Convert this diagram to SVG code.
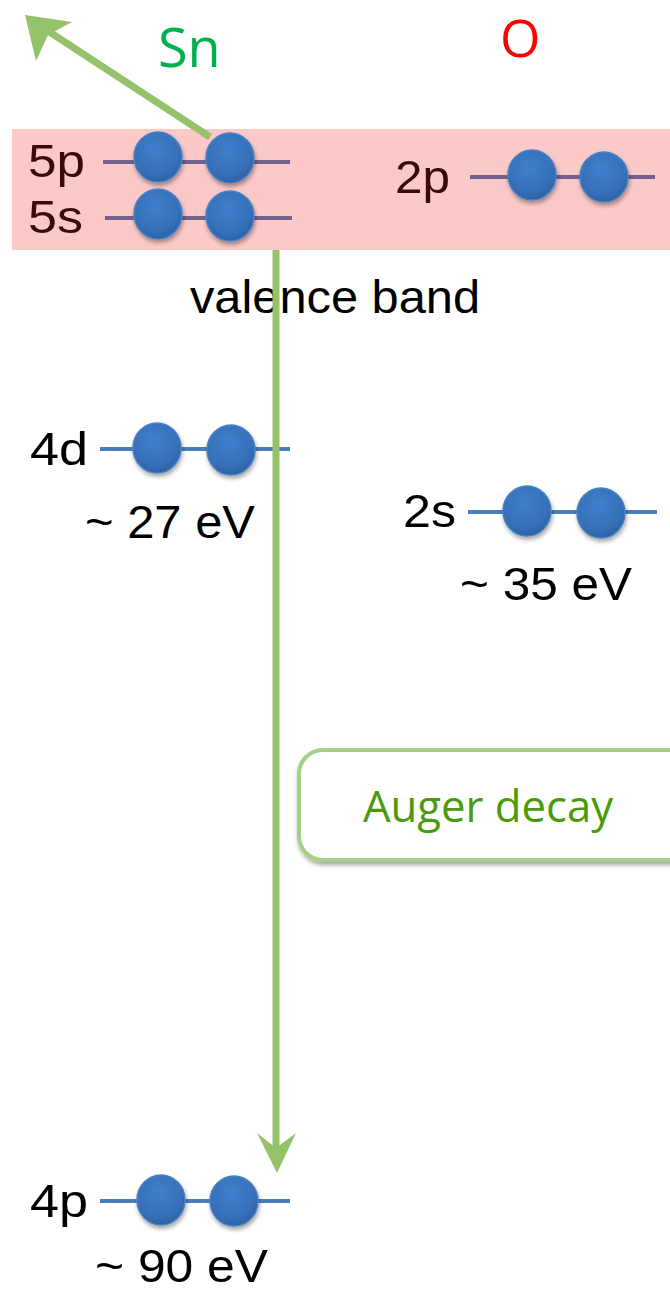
<svg xmlns="http://www.w3.org/2000/svg" width="670" height="1290" viewBox="0 0 670 1290">
<defs>
<radialGradient id="eg" cx="0.45" cy="0.35" r="0.7">
<stop offset="0" stop-color="#3f7fcc"/>
<stop offset="0.7" stop-color="#3670b8"/>
<stop offset="1" stop-color="#2b5c9c"/>
</radialGradient>
<filter id="sh" x="-20%" y="-20%" width="140%" height="150%">
<feDropShadow dx="1" dy="3" stdDeviation="2" flood-color="#000" flood-opacity="0.35"/>
</filter>
<style>
.lbl{font-family:"Liberation Sans",Arial,sans-serif;font-size:47px;fill:#000}
.dk{fill:#3a0a0a}
.el{fill:url(#eg);stroke:#4a82c4;stroke-width:1.5;filter:url(#sh)}
.lv{stroke:#4a7ebb;stroke-width:4}
.lvp{stroke:#73608f;stroke-width:4}
.conn{stroke:#97c26c;stroke-width:7;fill:none}
.hd{fill:#97c26c}
</style>
</defs>
<rect x="12" y="129" width="658" height="121" fill="#fcc9c9"/>
<text x="158" y="67" font-family="Open Sans,'Liberation Sans',sans-serif" font-size="54" fill="#00b050">Sn</text>
<text x="500" y="57" font-family="Open Sans,'Liberation Sans',sans-serif" font-size="52" fill="#ff0000">O</text>
<text class="lbl" x="190" y="313" textLength="290" lengthAdjust="spacingAndGlyphs">valence band</text>
<g id="sn5p">
<line class="lvp" x1="103" y1="162" x2="290" y2="162"/>
<ellipse class="el" cx="158" cy="157" rx="24" ry="25"/>
<ellipse class="el" cx="230" cy="158" rx="24" ry="25"/>
<text class="lbl dk" x="28" y="177" textLength="57" lengthAdjust="spacingAndGlyphs">5p</text>
</g>
<g id="sn5s">
<line class="lvp" x1="105" y1="218" x2="292" y2="218"/>
<ellipse class="el" cx="158" cy="214" rx="24" ry="25"/>
<ellipse class="el" cx="230" cy="216" rx="24" ry="25"/>
<text class="lbl dk" x="28" y="233" textLength="55" lengthAdjust="spacingAndGlyphs">5s</text>
</g>
<g id="o2p">
<line class="lvp" x1="470" y1="177" x2="655" y2="177"/>
<ellipse class="el" cx="532" cy="175" rx="24" ry="25"/>
<ellipse class="el" cx="604" cy="177" rx="24" ry="25"/>
<text class="lbl dk" x="395" y="193" textLength="55" lengthAdjust="spacingAndGlyphs">2p</text>
</g>
<g id="sn4d">
<line class="lv" x1="100" y1="449" x2="290" y2="449"/>
<ellipse class="el" cx="157" cy="448" rx="24" ry="25"/>
<ellipse class="el" cx="231" cy="450" rx="24" ry="25"/>
<text class="lbl" x="30" y="465" textLength="58" lengthAdjust="spacingAndGlyphs">4d</text>
<text class="lbl" x="85" y="538" textLength="170" lengthAdjust="spacingAndGlyphs">~ 27 eV</text>
</g>
<g id="o2s">
<line class="lv" x1="468" y1="512" x2="657" y2="512"/>
<ellipse class="el" cx="527" cy="511" rx="24" ry="25"/>
<ellipse class="el" cx="601" cy="513" rx="24" ry="25"/>
<text class="lbl" x="403" y="527" textLength="53" lengthAdjust="spacingAndGlyphs">2s</text>
<text class="lbl" x="460" y="600" textLength="172" lengthAdjust="spacingAndGlyphs">~ 35 eV</text>
</g>
<g id="sn4p">
<line class="lv" x1="100" y1="1201" x2="290" y2="1201"/>
<ellipse class="el" cx="161" cy="1200" rx="24" ry="25"/>
<ellipse class="el" cx="234" cy="1201" rx="24" ry="25"/>
<text class="lbl" x="30" y="1217" textLength="58" lengthAdjust="spacingAndGlyphs">4p</text>
<text class="lbl" x="95" y="1282" textLength="173" lengthAdjust="spacingAndGlyphs">~ 90 eV</text>
</g>
<g id="connectors">
<line class="conn" x1="210" y1="137" x2="45" y2="29"/>
<path class="hd" d="M25,15 L72,22 L48,35 L36,61 Z"/>
<line class="conn" x1="276" y1="250" x2="276" y2="1150"/>
<path class="hd" d="M257,1133 L276,1148 L296,1133 L277,1173 Z"/>
</g>
<g id="auger">
<rect x="299" y="750" width="400" height="110" rx="24" ry="24" fill="#fff" stroke="#a6cf88" stroke-width="4" filter="url(#sh)"/>
<text x="363" y="822" font-family="Open Sans,'Liberation Sans',sans-serif" font-size="44" fill="#4b9a0a" textLength="250" lengthAdjust="spacingAndGlyphs">Auger decay</text>
</g>
</svg>
